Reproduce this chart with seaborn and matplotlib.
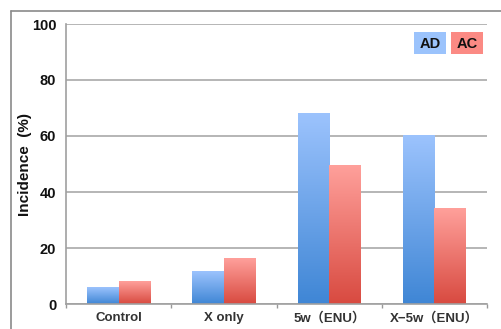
import numpy as np
import pandas as pd
import matplotlib
matplotlib.use("Agg")
import matplotlib.pyplot as plt
from matplotlib.colors import LinearSegmentedColormap
from matplotlib.patches import Rectangle
from matplotlib.lines import Line2D
import seaborn as sns

# Data
groups = ["Control", "X only", "5w（ENU）", "X−5w（ENU）"]
series = ["AD", "AC"]
ad_values = [6.0, 11.5, 68.0, 60.0]
ac_values = [8.0, 16.4, 49.6, 34.0]
y_ticks = [0, 20, 40, 60, 80, 100]

df = pd.DataFrame({
    "group": groups * 2,
    "series": ["AD"] * len(groups) + ["AC"] * len(groups),
    "incidence": ad_values + ac_values,
})

sns.set_theme(style="white")
plt.rcParams["font.family"] = ["Liberation Sans", "Noto Sans CJK JP", "DejaVu Sans"]

legend_colors = {"AD": "#9bc3fc", "AC": "#fb8a84"}
gradients = {
    "AD": ("#3f86d5", "#9cc3fd"),
    "AC": ("#d84a40", "#ffa09b"),
}

fig = plt.figure(figsize=(5.01, 3.29), dpi=100)
ax = fig.add_axes([66 / 501, 1 - 304 / 329, (487 - 66) / 501, (304 - 24) / 329])

sns.barplot(data=df, x="group", y="incidence", hue="series", order=groups,
            hue_order=series, palette=legend_colors, width=0.6, ax=ax,
            legend=False, saturation=1, linewidth=0)

# Replace flat bar fills with a vertical gradient (dark at the base)
bars = [p for p in ax.patches if isinstance(p, Rectangle)]
n = len(groups)
for i, bar in enumerate(bars):
    name = series[i // n]
    lo, hi = gradients[name]
    cmap = LinearSegmentedColormap.from_list(name, [lo, hi])
    x0, y0 = bar.get_x(), bar.get_y()
    w, h = bar.get_width(), bar.get_height()
    grad = np.linspace(1, 0, 256).reshape(-1, 1)
    ax.imshow(grad, cmap=cmap, aspect="auto", extent=[x0, x0 + w, y0, y0 + h],
              zorder=2, interpolation="bicubic")
    bar.set_facecolor("none")

ax.set_xlim(-0.5, len(groups) - 0.5)
ax.set_ylim(0, 100)
ax.set_yticks(y_ticks)
ax.set_yticklabels([str(t) for t in y_ticks], fontsize=10.5, fontweight="bold",
                   color="#111111")
ax.yaxis.grid(True, color="#b0b0b0", linewidth=1.3, zorder=0)
ax.set_axisbelow(True)

ax.set_xticks(range(len(groups)))
ax.set_xticklabels(groups, fontsize=9.5, fontweight="bold", color="#333333")
ax.tick_params(axis="x", length=0, pad=6)
ax.tick_params(axis="y", length=0, pad=7)
ax.set_xticks(np.arange(-0.5, len(groups), 1), minor=True)
ax.tick_params(axis="x", which="minor", length=3, color="#999999", width=1,
               direction="out", bottom=True)

ax.set_xlabel("")
ax.set_ylabel("Incidence  (%)", fontsize=11, fontweight="bold", color="#111111",
              labelpad=-0.5)

for side in ["top", "right"]:
    ax.spines[side].set_visible(False)
for side in ["left", "bottom"]:
    ax.spines[side].set_color("#a0a0a0")
    ax.spines[side].set_linewidth(1.2)

# Legend as coloured label boxes
for name, (x0, x1) in zip(series, [(414, 446), (451, 483)]):
    fig.patches.append(Rectangle((x0 / 501, 1 - 54 / 329), (x1 - x0) / 501,
                                 22 / 329, transform=fig.transFigure,
                                 facecolor=legend_colors[name], edgecolor="none",
                                 zorder=5))
    fig.text((x0 + x1) / 2 / 501, 1 - 43.5 / 329, name, ha="center", va="center",
             fontsize=10.5, fontweight="bold", color="#111111", zorder=6)

# Outer frame
fig.lines.append(Line2D([10.5 / 501, 10.5 / 501], [0, 1 - 10.5 / 329],
                        transform=fig.transFigure, color="#8a8a8a", linewidth=1.2))
fig.lines.append(Line2D([10.5 / 501, 1], [1 - 10.5 / 329, 1 - 10.5 / 329],
                        transform=fig.transFigure, color="#8a8a8a", linewidth=1.2))

fig.savefig("out.png", dpi=100)
